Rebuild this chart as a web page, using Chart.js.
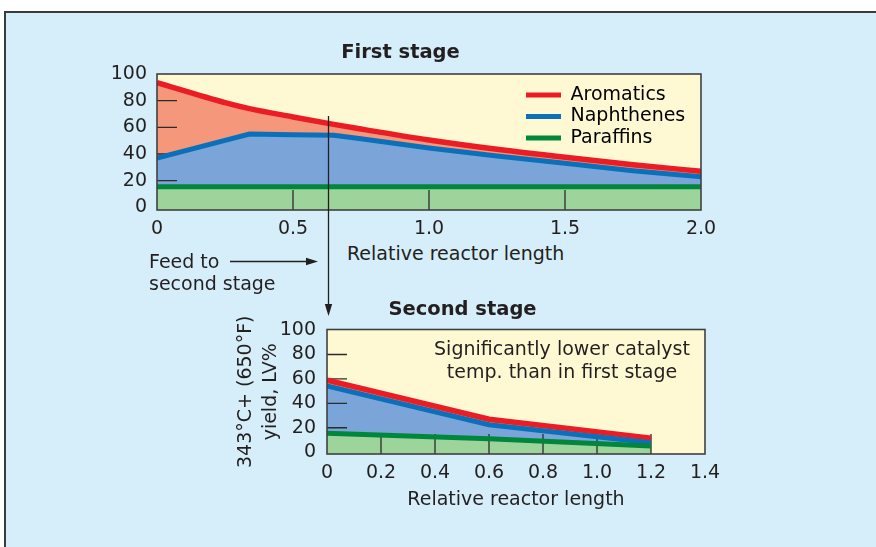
<!DOCTYPE html>
<html>
<head>
<meta charset="utf-8">
<script src="https://cdn.jsdelivr.net/npm/chart.js@4"></script>
<style>
  html, body { margin: 0; padding: 0; background: #fff; }
  body { width: 876px; height: 547px; position: relative; overflow: hidden;
         font-family: "DejaVu Sans", sans-serif; color: #231f20; }
  #frame { position: absolute; left: 4px; top: 11px; width: 900px; height: 560px;
           background: #d5eefa; border-top: 2px solid #3b3b3b; border-left: 2px solid #3b3b3b; }
  canvas { position: absolute; }
  .lbl { position: absolute; font-size: 19px; line-height: 22px; white-space: nowrap; }
  #arrows { position: absolute; left: 0; top: 0; pointer-events: none; }
</style>
</head>
<body>
<div id="frame"></div>
<canvas id="stage1" width="656" height="210" style="left:100px;top:30px"></canvas>
<canvas id="stage2" width="592" height="227" style="left:220px;top:285px"></canvas>

<div class="lbl" style="left:347px;top:242px">Relative reactor length</div>
<div class="lbl" style="left:149px;top:250px">Feed to<br>second stage</div>
<div class="lbl" style="left:412px;top:337px;width:300px;text-align:center;line-height:22.5px">Significantly lower catalyst<br>temp. than in first stage</div>

<svg id="arrows" width="876" height="547">
  <line x1="328.5" y1="116" x2="328.5" y2="305" stroke="#231f20" stroke-width="1.3"/>
  <polygon points="328.5,316 324.8,304 332.2,304" fill="#231f20"/>
  <line x1="230" y1="261.5" x2="308" y2="261.5" stroke="#231f20" stroke-width="1.3"/>
  <polygon points="318,261.5 306,257.8 306,265.2" fill="#231f20"/>
</svg>

<script>
/* data
---------------------------- */
var seriesNames = ['Paraffins', 'Naphthenes', 'Aromatics'];
var yTicks = [0, 20, 40, 60, 80, 100];

// first stage
var stage1X = [0, 0.25, 0.34, 0.5, 0.65, 0.75, 1.0, 1.25, 1.5, 1.75, 2.0];
var stage1Aromatics  = [93.5, 78.5, 74, 67.8, 62.2, 58.7, 50.5, 43.5, 37.5, 32, 27];
var stage1Naphthenes = [37, 50.2, 55, 54.5, 54, 51.5, 44.5, 38.5, 33, 27.5, 23];
var stage1Paraffins  = [15.5, 15.5, 15.5, 15.5, 15.5, 15.5, 15.5, 15.5, 15.5, 15.5, 15.5];
var stage1XTicks  = [0, 0.5, 1.0, 1.5, 2.0];
var stage1XLabels = ['0', '0.5', '1.0', '1.5', '2.0'];

// second stage
var stage2X = [0, 0.6, 1.2];
var stage2Aromatics  = [59, 27, 11.5];
var stage2Naphthenes = [54.3, 22.5, 7.8];
var stage2Paraffins  = [15.5, 11, 5];
var stage2XTicks  = [0, 0.2, 0.4, 0.6, 0.8, 1.0, 1.2, 1.4];
var stage2XLabels = ['0', '0.2', '0.4', '0.6', '0.8', '1.0', '1.2', '1.4'];

var INK = '#231f20';
Chart.defaults.font.family = '"DejaVu Sans", sans-serif';
Chart.defaults.font.size = 19;
Chart.defaults.color = INK;

function points(xs, ys) {
  return xs.map(function (x, i) { return { x: x, y: ys[i] }; });
}

function stageDatasets(xs, par, nap, aro, smooth) {
  return [
    { label: seriesNames[0], data: points(xs, par), borderColor: '#00873c', backgroundColor: '#9dd49b',
      fill: 'start', borderWidth: 5, pointRadius: 0 },
    { label: seriesNames[1], data: points(xs, nap), borderColor: '#0a70ba', backgroundColor: '#7ba5d9',
      fill: '-1', borderWidth: 5, pointRadius: 0 },
    { label: seriesNames[2], data: points(xs, aro), borderColor: '#ec1c24', backgroundColor: '#f4977b',
      fill: '-1', borderWidth: 5.5, pointRadius: 0, cubicInterpolationMode: smooth ? 'monotone' : 'default' }
  ];
}

// cream plot background, short inner ticks, plot frame
var plotDecor = {
  id: 'plotDecor',
  beforeDraw: function (chart) {
    var a = chart.chartArea, ctx = chart.ctx;
    ctx.save();
    ctx.fillStyle = '#fff9d3';
    ctx.fillRect(a.left, a.top, a.right - a.left, a.bottom - a.top);
    ctx.restore();
  },
  beforeDatasetsDraw: function (chart, args, opts) {
    var a = chart.chartArea, ctx = chart.ctx, x = chart.scales.x, y = chart.scales.y;
    ctx.save();
    ctx.strokeStyle = '#2b2b2b';
    ctx.lineWidth = 1.3;
    ctx.beginPath();
    opts.xTicks.forEach(function (v) {
      var px = x.getPixelForValue(v);
      ctx.moveTo(px, a.bottom); ctx.lineTo(px, a.bottom - 20);
    });
    opts.yTicks.forEach(function (v) {
      var py = y.getPixelForValue(v);
      ctx.moveTo(a.left, py); ctx.lineTo(a.left + 20, py);
    });
    ctx.stroke();
    ctx.restore();
  },
  afterDatasetsDraw: function (chart) {
    var a = chart.chartArea, ctx = chart.ctx;
    ctx.save();
    ctx.strokeStyle = '#404040';
    ctx.lineWidth = 1.6;
    ctx.strokeRect(a.left, a.top, a.right - a.left, a.bottom - a.top);
    ctx.restore();
  },
  afterLayout: function (chart, args, opts) {
    // legend sits inside the plot, top right
    var lg = chart.legend;
    if (!lg || !opts.legendAt) return;
    var a = chart.chartArea;
    lg.left = a.left + opts.legendAt[0]; lg.right = lg.left + lg.width;
    lg.top = a.top + opts.legendAt[1]; lg.bottom = lg.top + lg.height;
  }
};

function fixedTicks(list) {
  return function (scale) { scale.ticks = list.map(function (v) { return { value: v }; }); };
}

/* First stage
---------------------------- */
var stage1 = new Chart(document.getElementById('stage1'), {
  type: 'line',
  data: { datasets: stageDatasets(stage1X, stage1Paraffins, stage1Naphthenes, stage1Aromatics, true) },
  options: {
    responsive: false,
    animation: false,
    layout: { padding: { left: 0, right: 55, top: 0, bottom: 0 } },
    scales: {
      x: {
        type: 'linear', min: 0, max: 2,
        grid: { display: false, drawTicks: false }, border: { display: false },
        afterBuildTicks: fixedTicks(stage1XTicks),
        ticks: { padding: 8, maxRotation: 0, autoSkip: false,
                 callback: function (v, i) { return stage1XLabels[i]; } },
        afterFit: function (s) { s.height = 30; }
      },
      y: {
        min: -2, max: 100,
        grid: { display: false, drawTicks: false }, border: { display: false },
        afterBuildTicks: fixedTicks(yTicks),
        ticks: { padding: 10, autoSkip: false, callback: function (v) { return String(v); } },
        afterFit: function (s) { s.width = 57; }
      }
    },
    plugins: {
      filler: { drawTime: 'beforeDatasetsDraw' },
      title: { display: true, text: 'First stage', color: INK,
               font: { size: 19.5, weight: 'bold' }, padding: { top: 11.5, bottom: 9.1 } },
      legend: {
        display: true, position: 'chartArea', align: 'start',
        labels: {
          boxWidth: 35, boxHeight: 5, padding: 2.5, color: INK, font: { size: 19 },
          generateLabels: function (c) {
            return c.data.datasets.map(function (d, i) {
              return { text: d.label, fillStyle: d.borderColor, strokeStyle: d.borderColor,
                       lineWidth: 0, hidden: false, datasetIndex: i };
            }).reverse();
          }
        }
      },
      tooltip: { enabled: false },
      plotDecor: { xTicks: stage1XTicks.slice(1, -1), yTicks: yTicks.slice(1, -1), legendAt: [366.5, 9] }
    }
  },
  plugins: [plotDecor]
});

/* Second stage
---------------------------- */
var stage2 = new Chart(document.getElementById('stage2'), {
  type: 'line',
  data: { datasets: stageDatasets(stage2X, stage2Paraffins, stage2Naphthenes, stage2Aromatics, false) },
  options: {
    responsive: false,
    animation: false,
    layout: { padding: { left: 0, right: 107, top: 0, bottom: 0 } },
    scales: {
      x: {
        type: 'linear', min: 0, max: 1.4,
        grid: { display: false, drawTicks: false }, border: { display: false },
        afterBuildTicks: fixedTicks(stage2XTicks),
        ticks: { padding: 8, maxRotation: 0, autoSkip: false,
                 callback: function (v, i) { return stage2XLabels[i]; } },
        title: { display: true, text: 'Relative reactor length', color: INK,
                 font: { size: 19 }, padding: { top: 0, bottom: 0.6 } },
        afterFit: function (s) { s.height = 58; }
      },
      y: {
        min: -1.5, max: 100.5,
        grid: { display: false, drawTicks: false }, border: { display: false },
        afterBuildTicks: fixedTicks(yTicks),
        ticks: { padding: 11, autoSkip: false, callback: function (v) { return String(v); } },
        title: { display: true, text: ['343°C+ (650°F)', 'yield, LV%'], color: INK,
                 font: { size: 19, lineHeight: 1.316 }, padding: { top: 13.5, bottom: 0 } },
        afterFit: function (s) { s.width = 107; }
      }
    },
    plugins: {
      filler: { drawTime: 'beforeDatasetsDraw' },
      title: { display: true, text: 'Second stage', color: INK,
               font: { size: 19.5, weight: 'bold' }, padding: { top: 13.3, bottom: 7.8 } },
      legend: { display: false },
      tooltip: { enabled: false },
      plotDecor: { xTicks: stage2XTicks.slice(1, -1), yTicks: yTicks.slice(1, -1) }
    }
  },
  plugins: [plotDecor]
});
</script>
</body>
</html>
